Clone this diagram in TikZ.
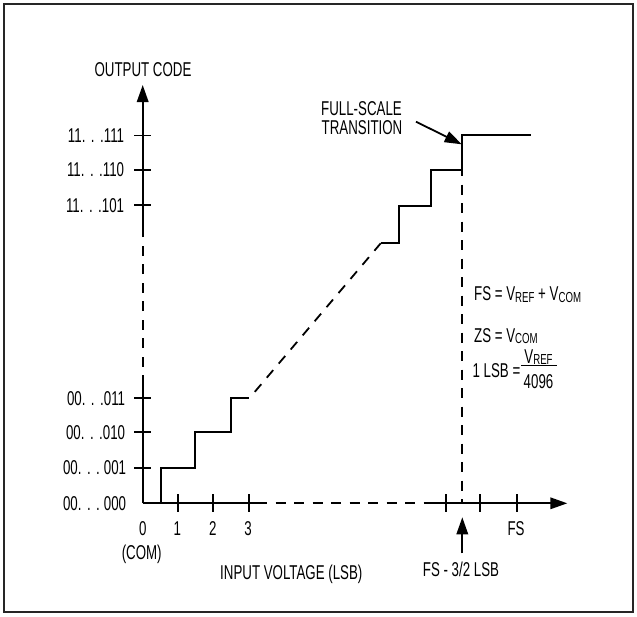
\documentclass[tikz,border=0pt]{standalone}
\usepackage{fontspec}
\setmainfont{Liberation Sans}[FakeStretch=0.665]
\usetikzlibrary{arrows.meta}
\newcommand{\sbs}[1]{\raisebox{-1.8pt}{\fontsize{14.5}{15}\selectfont #1}}
\newcommand{\dk}{\kern5.5pt}
\begin{document}
\begin{tikzpicture}[x=1pt,y=-1pt, line width=1.8pt,
  lbl/.style={font=\fontsize{20}{22}\selectfont, inner sep=0pt, text height=14.3pt, text depth=0pt},
  tickmark/.style={line width=1.8pt},
  dsh/.style={dash pattern=on 10pt off 8.5pt},
  tip/.style={-{Triangle[length=17pt,width=11.5pt]}}]
\useasboundingbox (0,0) rectangle (637,616);
\draw[line width=2pt, color=black!85] (4,4) rectangle (633,612);
% axes
\coordinate (O) at (142.7,503.3);
\coordinate (ya) at (142.7,375);
\coordinate (yb) at (142.7,233);
\coordinate (ytop) at (142.7,85);
\coordinate (xa) at (267,503.3);
\coordinate (xb) at (430,503.3);
\coordinate (xend) at (567.3,503.3);
\draw (O) -- (ya);
\draw[dsh, dash phase=10pt] (ya) -- (yb);
\draw[tip] (yb) -- (ytop);
\draw (O) -- (xa);
\draw[dsh, dash phase=10pt] (xa) -- (xb);
\draw[tip] (xb) -- (xend);
% y ticks
\foreach \y in {135.5,169.8,205.3,398.3,432.3,467.7}
  \draw[tickmark] (134,\y) -- (150.7,\y);
% x ticks
\foreach \x in {177.7,212.7,248.7,445.7,480,516.7}
  \draw[tickmark] (\x,494.3) -- (\x,512.3);
% steps
\coordinate (s3) at (249.3,398.3);
\coordinate (u0) at (380.7,243.3);
\draw (O) -- (161,503.3) -- (161,467.7) -- (195,467.7) -- (195,432.3) -- (231.3,432.3) -- (231.3,398.3) -- (s3);
\draw[dsh, dash phase=10pt] (s3) -- (u0);
\coordinate (fst) at (462.3,170);
\draw (u0) -- (399.3,243.3) -- (399.3,205.7) -- (430.7,205.7) -- (430.7,170) -- (fst) -- (462.3,135) -- (530.7,135);
\coordinate (fsb) at (462.3,503.3);
\draw[dsh, dash phase=4pt] (fst) -- (fsb);
% y labels
\node[lbl, anchor=center] (title) at (143,69.5) {OUTPUT CODE};
\node[lbl, anchor=east] (c7) at (125,135.5) {11.\dk.\dk.111};
\node[lbl, anchor=east] (c6) at (125,169.8) {11.\dk.\dk.110};
\node[lbl, anchor=east] (c5) at (125,205.3) {11.\dk.\dk.101};
\node[lbl, anchor=east] (c3) at (126,398.3) {00.\dk.\dk.011};
\node[lbl, anchor=east] (c2) at (126,432.3) {00.\dk.\dk.010};
\node[lbl, anchor=east] (c1) at (127,467.7) {00.\dk.\dk.\kern4pt001};
\node[lbl, anchor=east] (c0) at (127,503.3) {00.\dk.\dk.\kern4pt000};
% x labels
\node[lbl] (x0) at (142.7,528.3) {0};
\node[lbl] (x1) at (177.3,528.3) {1};
\node[lbl] (x2) at (212.7,528.3) {2};
\node[lbl] (x3) at (248,528.3) {3};
\node[lbl] (xfs) at (516,528.3) {FS};
\node[lbl] (com) at (141.7,552.7) {(COM)};
\node[lbl] (xlab) at (291.3,572) {INPUT VOLTAGE (LSB)};
\node[lbl] (fsm) at (461,569.3) {FS - 3/2 LSB};
\coordinate (upb) at (462.3,553.3);
\coordinate (upt) at (462.3,517.3);
\draw[tip] (upb) -- (upt);
% full-scale transition
\node[lbl] (fs1) at (361.5,108.3) {FULL-SCALE};
\node[lbl] (fs2) at (362,127.7) {TRANSITION};
\coordinate (la) at (416,121.7);
\coordinate (lb) at (461.7,144.3);
\draw[tip] (la) -- (lb);
% formulas
\node[lbl, anchor=west] (f1) at (473.3,293.3) {FS = V\sbs{REF} + V\sbs{COM}};
\node[lbl, anchor=west] (f2) at (473.3,335) {ZS = V\sbs{COM}};
\node[lbl, anchor=west] (f3) at (471.7,370.7) {1 LSB =};
\node[lbl] (fn) at (538.5,356) {V\sbs{REF}};
\node[lbl] (fd) at (538.5,381.7) {4096};
\coordinate (fra) at (521,365.7);
\coordinate (frb) at (557,365.7);
\draw[line width=1.2pt] (fra) -- (frb);
\end{tikzpicture}
\end{document}
